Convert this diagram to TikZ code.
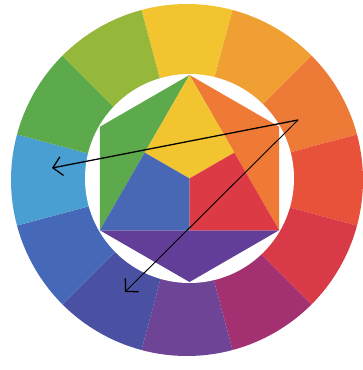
\documentclass[tikz,border=0pt]{standalone}
\usetikzlibrary{arrows.meta,calc}
\definecolor{cY}{HTML}{F2C530}
\definecolor{cYO}{HTML}{F0A033}
\definecolor{cO}{HTML}{EE7A38}
\definecolor{cRO}{HTML}{E8523A}
\definecolor{cR}{HTML}{D93A48}
\definecolor{cRV}{HTML}{A33070}
\definecolor{cV}{HTML}{6E4596}
\definecolor{cBV}{HTML}{4A50A2}
\definecolor{cB}{HTML}{4668B8}
\definecolor{cBG}{HTML}{4A9FD2}
\definecolor{cG}{HTML}{5CAA4C}
\definecolor{cYG}{HTML}{96B83A}
\definecolor{iY}{HTML}{F2C530}
\definecolor{iO}{HTML}{EF7A35}
\definecolor{iR}{HTML}{DC3A45}
\definecolor{iB}{HTML}{4868B5}
\definecolor{iV}{HTML}{623E98}
\definecolor{iG}{HTML}{5CAA4C}
\tikzset{
  arrowline/.style={draw=black, line width=1.3pt, -{Straight Barb[length=9pt,width=19pt,line width=1.3pt]}},
  arrowthin/.style={draw=black, line width=0.9pt, -{Straight Barb[length=9pt,width=19pt,line width=1.3pt]}}
}
\begin{document}
\begin{tikzpicture}[x=1pt,y=-1pt]
\fill[white] (0,0) rectangle (363,370);
\useasboundingbox (0,0) rectangle (363,370);
% outer ring
\begin{scope}[shift={(187,180)}, yscale=-1]
  \foreach \c [count=\k from 0] in {cY,cYO,cO,cRO,cR,cRV,cV,cBV,cB,cBG,cG,cYG} {
    \pgfmathsetmacro{\a}{90-30*\k+15}
    \pgfmathsetmacro{\b}{90-30*\k-15}
    \fill[\c] (0,0) -- (\a:176) arc[start angle=\a, end angle=\b, radius=176] -- cycle;
  }
\end{scope}
% inner white disc and hexagon
\begin{scope}[shift={(189.5,178.5)}, yscale=-1]
  \fill[white] (0,0) circle[radius=104.5];
  \coordinate (T) at (90:103.5);
  \coordinate (UR) at (30:103.5);
  \coordinate (LR) at (-30:103.5);
  \coordinate (Bt) at (-90:103.5);
  \coordinate (LL) at (-150:103.5);
  \coordinate (UL) at (150:103.5);
  \coordinate (M) at (0,0);
  \coordinate (mL) at ($(T)!0.5!(LL)$);
  \coordinate (mR) at ($(T)!0.5!(LR)$);
  \coordinate (mB) at ($(LL)!0.5!(LR)$);
  \fill[iG] (T) -- (UL) -- (LL) -- cycle;
  \fill[iO] (T) -- (UR) -- (LR) -- cycle;
  \fill[iV] (LL) -- (Bt) -- (LR) -- cycle;
  \fill[iY] (T) -- (mR) -- (M) -- (mL) -- cycle;
  \fill[iB] (LL) -- (mL) -- (M) -- (mB) -- cycle;
  \fill[iR] (LR) -- (mB) -- (M) -- (mR) -- cycle;
\end{scope}
% arrows
\coordinate (s) at (298,120);
\coordinate (a1) at (52,168);
\coordinate (a2) at (125,292);
\draw[arrowline] (s) -- (a1);
\draw[arrowthin] (s) -- (a2);
\end{tikzpicture}
\end{document}
